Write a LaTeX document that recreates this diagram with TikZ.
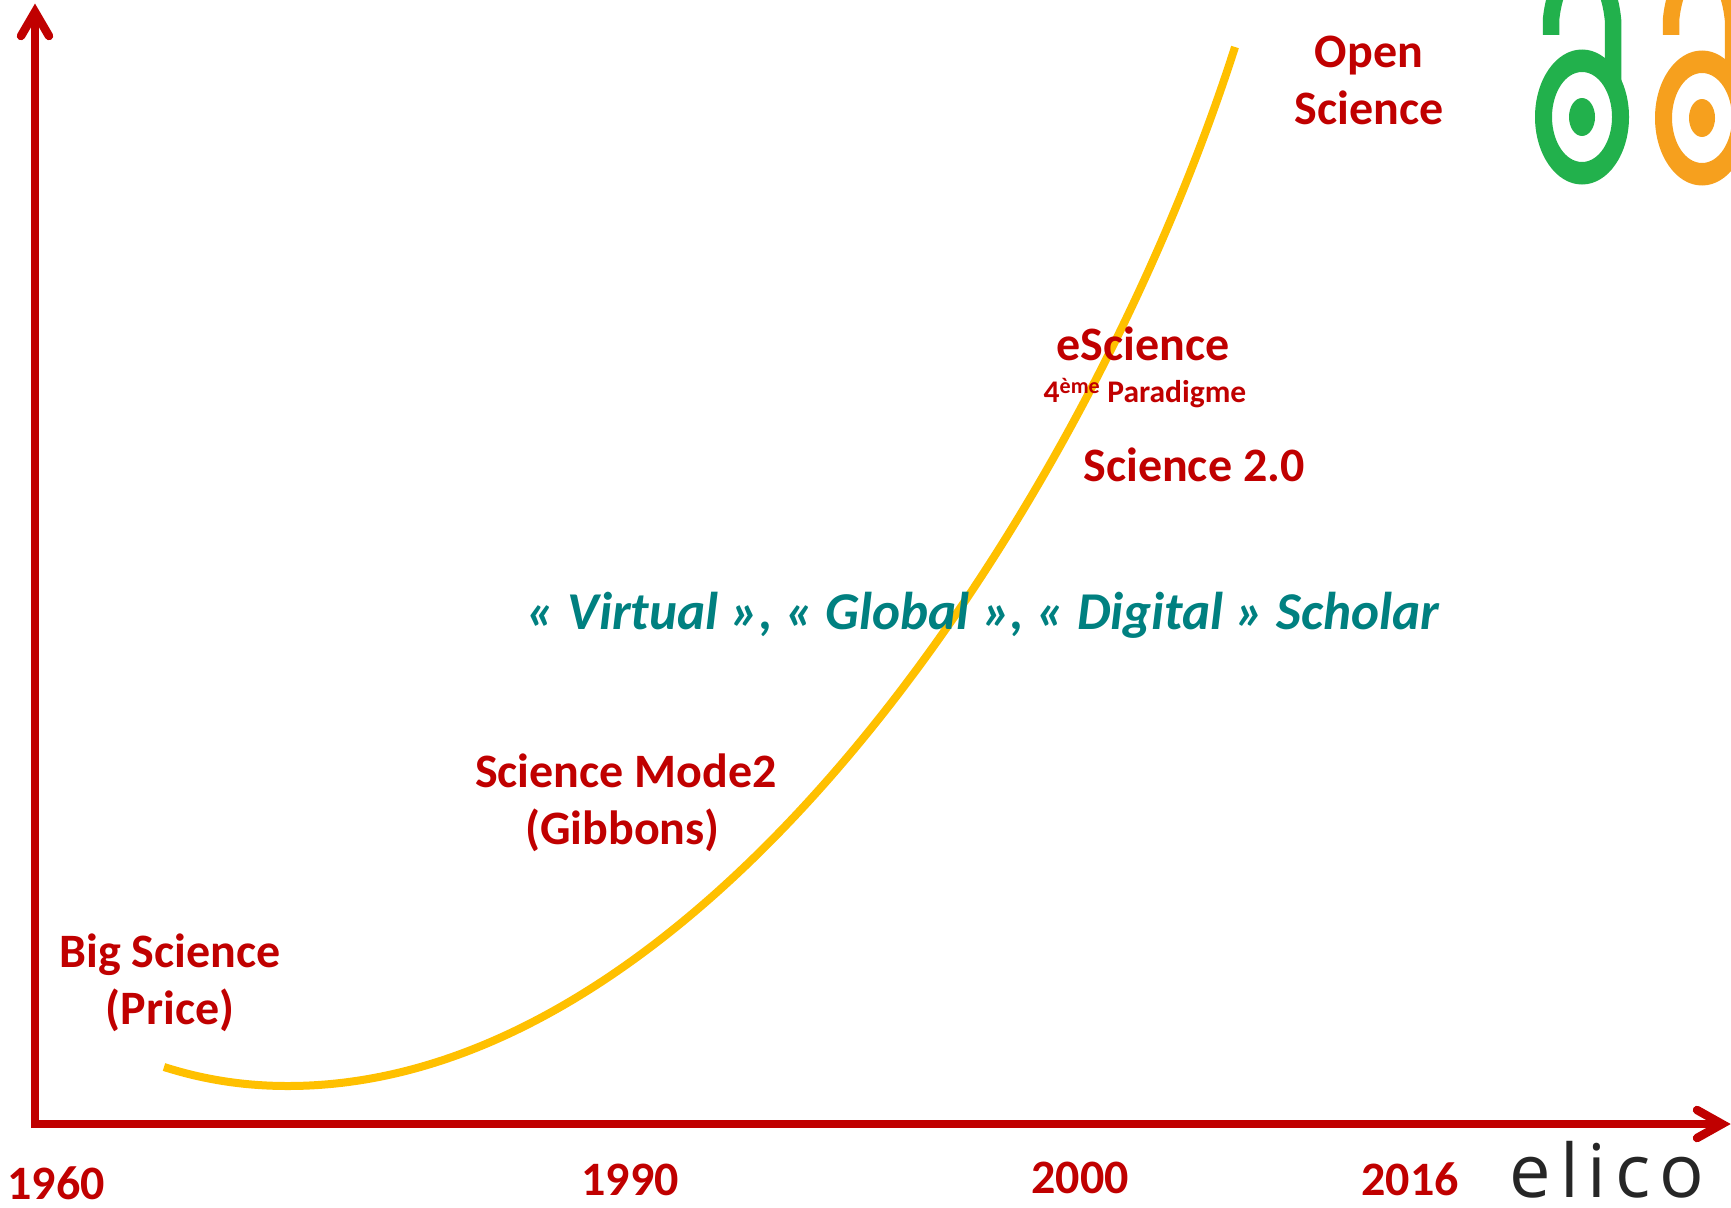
\documentclass[tikz,border=0pt]{standalone}
\usepackage{fontspec}
\setmainfont{Carlito}
\newfontfamily\elicofont[LetterSpace=12]{Open Sans}
\definecolor{axisred}{HTML}{C00000}
\definecolor{curvey}{HTML}{FFC000}
\definecolor{tealtx}{HTML}{008080}
\definecolor{oagreen}{HTML}{22B14C}
\definecolor{oaorange}{HTML}{F6A01E}
\tikzset{
  axisline/.style={draw=axisred,line width=8.5pt,line cap=butt},
  barb/.style={draw=axisred,line width=8.5pt,line cap=round,line join=miter},
  curveline/.style={draw=curvey,line width=8pt},
  redlabel/.style={text=axisred,font=\fontsize{48}{57}\selectfont\bfseries,align=center,inner sep=0pt},
  yearlabel/.style={text=axisred,font=\fontsize{48}{50}\selectfont\bfseries,inner sep=0pt},
  smalllabel/.style={text=axisred,font=\fontsize{31.5}{34}\selectfont\bfseries,inner sep=0pt},
  teallabel/.style={text=tealtx,font=\fontsize{53.2}{60}\selectfont\bfseries\itshape,inner sep=0pt},
}
\begin{document}
\begin{tikzpicture}[x=1pt,y=-1pt]
\useasboundingbox (0,0) rectangle (1731,1207);
\clip (0,0) rectangle (1731,1207);
% curve
\draw[curveline] (164,1067) .. controls (205,1080) and (245,1086) .. (288,1086) .. controls (708,1086) and (1090,500) .. (1235,47);
% axes
\coordinate (origin) at (35,1124);
\coordinate (ytip) at (35,12);
\coordinate (xtip) at (1720,1124);
\draw[axisline] (35,1128) -- (ytip);
\draw[axisline] (origin) ++(-4,0) -- (xtip);
\draw[barb] (21,36) -- (35,12) -- (49,36);
\draw[barb] (1697,1110) -- (1722,1124) -- (1697,1138);
% labels
\node[redlabel] (open) at (1369,80) {Open\\Science};
\node[redlabel] (escience) at (1143,344) {eScience};
\node[smalllabel] (para) at (1145,393) {4\textsuperscript{ème} Paradigme};
\node[redlabel] (sci2) at (1194,465) {Science 2.0};
\node[teallabel] (virt) at (983,615) {« Virtual », « Global », « Digital » Scholar};
\node[redlabel] (mode2) at (626,803) {Science Mode2\\(Gibbons)\hspace*{7pt}};
\node[redlabel] (big) at (170,983) {Big Science\\(Price)};
\node[yearlabel] (y60) at (56,1183) {1960};
\node[yearlabel] (y90) at (630,1180) {1990};
\node[yearlabel] (y00) at (1080,1178) {2000};
\node[yearlabel] (y16) at (1410,1179) {2016};
\node[text=black!85,font=\fontsize{74}{80}\selectfont\elicofont,inner sep=0pt,anchor=base] (elico) at (1607,1197) {elico};
% open access logos
\foreach \cx/\cy/\col in {1582/117/oagreen,1702/118/oaorange}{
  \draw[\col,line width=16.5pt] (\cx-31,35) -- (\cx-31,20) .. controls (\cx-24,-50) and (\cx+24,-50) .. (\cx+31,20) -- (\cx+31,85);
  \fill[\col,even odd rule] (\cx,\cy) ellipse [x radius=47,y radius=67.5] (\cx,\cy) ellipse [x radius=30,y radius=45];
  \fill[\col] (\cx,\cy) ellipse [x radius=13,y radius=19];
}
\end{tikzpicture}
\end{document}
